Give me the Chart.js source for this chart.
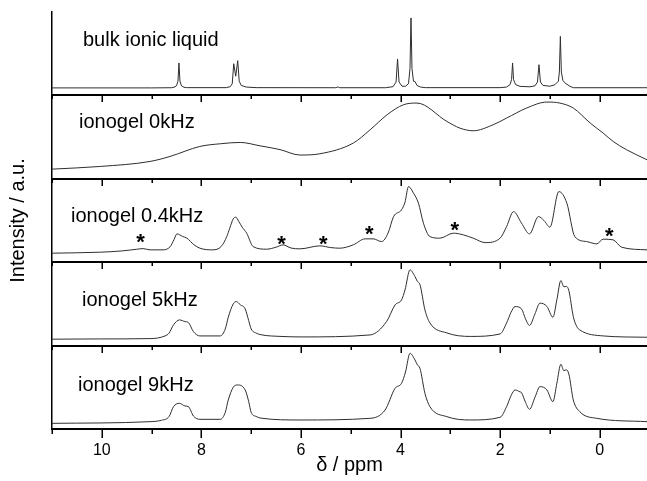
<!DOCTYPE html>
<html lang="en">
<head>
<meta charset="UTF-8">
<title>1H NMR spectra: bulk ionic liquid and ionogel</title>
<script src="https://cdn.jsdelivr.net/npm/chart.js"></script>
<style>
  body { margin: 0; background: #fff; }
  canvas { display: block; }
</style>
</head>
<body>
<canvas id="nmrChart" width="647" height="481"></canvas>
<script>
// chemical shift (ppm) and intensity (a.u., 100 = one panel) for every trace
const bulkShift = [11.0, 9.0, 8.6, 8.55, 8.5, 8.47, 8.45, 8.43, 8.40, 8.35, 8.3, 7.5, 7.42, 7.38, 7.35, 7.31, 7.27, 7.24, 7.2, 7.1, 6.9,
  5.3, 5.26, 5.22, 4.3, 4.15, 4.09, 4.06, 4.03, 3.97, 3.90, 3.84, 3.81, 3.79, 3.77, 3.74, 3.71, 3.67, 3.6, 3.5,
  2.0, 1.87, 1.80, 1.77, 1.75, 1.73, 1.69, 1.6, 1.4, 1.3, 1.25, 1.22, 1.19, 1.14, 1.0, 0.9, 0.83, 0.81, 0.79, 0.77,
  0.74, 0.70, 0.6, 0.53, -0.95];
const bulkInt = [9, 9, 9.2, 9.8, 11.5, 17, 38.9, 17, 11.5, 9.8, 9.3, 9.3, 10.5, 14, 38, 23, 41.6, 17, 12, 10, 9.3,
  9.2, 10.2, 9.2, 9.2, 10.5, 16, 43.7, 16, 11, 11, 14, 32, 92.9, 32, 17, 16.7, 12, 10, 9.3,
  9.3, 10, 13, 19, 38.9, 19, 13, 10.8, 10.3, 11.5, 16, 36.8, 16, 12, 11, 12.8, 17, 28, 70.8, 28,
  18, 15, 11, 9.2, 9.2];

const gel0Shift = [11.0, 10.03, 9.03, 8.63, 8.03, 7.62, 7.22, 6.82, 6.42, 6.02, 5.62, 4.95, 4.61, 4.27, 3.94, 3.67,
  3.07, 2.81, 2.54, 2.14, 1.87, 1.47, 1.06, 0.80, 0.53, 0.19, -0.07, -0.27, -0.54, -0.95];
const gel0Int = [11.6, 14.8, 20.8, 26.8, 38.8, 42, 43.6, 39.5, 35, 28.5, 30, 42.8, 58.8, 76.8, 88.8, 90.8,
  68.8, 60.8, 57.6, 64.8, 72.8, 84.8, 92, 90.8, 84.8, 66.8, 54.8, 44.8, 34.8, 22.8];

const gel04Shift = [11.0, 10.03, 9.6, 9.3, 9.17, 9.03, 8.77, 8.63, 8.55, 8.49, 8.38, 8.29, 8.15, 8.03, 7.77, 7.6, 7.49,
  7.43, 7.36, 7.31, 7.25, 7.18, 7.09, 6.96, 6.69, 6.5, 6.36, 6.2, 6.02, 5.62, 5.4, 5.22, 4.95, 4.71, 4.55, 4.38,
  4.25, 4.14, 3.98, 3.91, 3.84, 3.74, 3.64, 3.54, 3.41, 3.21, 2.94, 2.74, 2.54, 2.30, 2.00, 1.87, 1.73, 1.57,
  1.41, 1.23, 1.12, 1.00, 0.82, 0.66, 0.50, 0.26, 0.06, -0.07, -0.27, -0.44, -0.95];
const gel04Int = [10.8, 12, 13.5, 15.5, 16.3, 14.8, 14.8, 18.4, 27, 34, 31, 28.8, 21, 16.8, 14.8, 19, 30.7,
  40.8, 52, 54, 49, 42, 34.8, 18.7, 15.6, 18, 20.8, 17, 16, 19.6, 17.5, 16.8, 20.8, 28, 28, 24.7,
  35, 54.7, 62.8, 72, 90.7, 82.8, 70.8, 46.8, 30.7, 28.8, 34.8, 32.8, 28.8, 23.5, 28.8, 42.7, 60.7, 46.8,
  34, 54.7, 50, 42, 84.7, 70.8, 30.7, 24.7, 22, 27.6, 26.8, 18, 14.8];

const gel5Shift = [11.0, 10.03, 9.03, 8.73, 8.65, 8.56, 8.44, 8.33, 8.26, 8.16, 8.03, 7.62, 7.52, 7.46, 7.36, 7.30,
  7.22, 7.12, 7.05, 7.0, 6.9, 6.8, 6.4, 6.0, 4.61, 4.28, 4.11, 3.98, 3.91, 3.81, 3.71, 3.66, 3.61, 3.51, 3.41,
  3.07, 2.60, 2.00, 1.87, 1.78, 1.70, 1.57, 1.49, 1.41, 1.30, 1.20, 1.06, 0.94, 0.86, 0.78, 0.72, 0.67, 0.62,
  0.53, 0.46, 0.40, -0.07, -0.95];
const gel5Int = [7.7, 8, 8.4, 11.6, 14.9, 24.8, 30.8, 28.8, 27.6, 16.8, 11.6, 11.6, 20, 34, 50, 52.8,
  49, 44, 30, 20, 15, 13, 11, 10.4, 12.8, 28.8, 48.8, 54.8, 66.8, 90.8, 82.8, 76.8, 73.2, 42.8, 27.2,
  15.2, 11, 14, 27.2, 40, 46.8, 44, 32, 24.2, 38, 50.9, 47, 34, 55, 78, 70.5, 71, 66,
  34.8, 22.8, 18.8, 11.6, 10];

const gel9Shift = [11.0, 9.03, 8.8, 8.65, 8.56, 8.44, 8.33, 8.26, 8.16, 8.03, 7.62, 7.52, 7.46, 7.36, 7.28, 7.12,
  7.05, 7.0, 6.9, 6.8, 6.02, 4.61, 4.31, 4.11, 3.98, 3.90, 3.81, 3.71, 3.66, 3.61, 3.51, 3.41, 3.07, 2.60, 2.00,
  1.87, 1.78, 1.70, 1.60, 1.57, 1.49, 1.41, 1.30, 1.20, 1.06, 0.94, 0.86, 0.78, 0.72, 0.67, 0.62, 0.53, 0.40,
  0.06, -0.95];
const gel9Int = [6.8, 8.8, 10.5, 14.8, 26.8, 30.8, 27.6, 26.8, 15.6, 11.6, 11.6, 20, 34.8, 50, 52.8, 46.8,
  33, 20, 15, 13, 10.8, 12.8, 22.8, 48.8, 54.8, 68.4, 90.8, 82.8, 76.8, 72.8, 42.8, 26.8, 14.8, 10.8, 14,
  26.8, 40, 46.8, 44.5, 43.6, 32, 23.6, 38, 50.8, 46.8, 32.8, 55, 77.6, 70, 71, 66, 34.8, 20.8,
  12.8, 8.8];

const panelNames = ['bulk ionic liquid', 'ionogel 0kHz', 'ionogel 0.4kHz', 'ionogel 5kHz', 'ionogel 9kHz'];
// spinning sideband markers in the 0.4 kHz trace
const bandShift = [9.22, 6.39, 5.55, 4.63, 2.91, -0.19];
const bandLevel = [30.7, 28.8, 28.8, 40.8, 44.8, 37.9];

// layout: panel baselines (top to bottom) and label offsets inside each panel
const panelBase = [400, 300, 200, 100, 0];
const labelOffset = [[31, 34], [27, 33], [19, 43], [30, 44], [26, 45]];
const FONT = 'Arial, "Liberation Sans", Helvetica, sans-serif';

const traces = [
  [bulkShift, bulkInt, 0],
  [gel0Shift, gel0Int, 0.4],
  [gel04Shift, gel04Int, 0.3],
  [gel5Shift, gel5Int, 0.3],
  [gel9Shift, gel9Int, 0.3]
];

const datasets = traces.map(([shift, inten, tension], i) => ({
  label: panelNames[i],
  data: shift.map((s, k) => ({ x: s, y: inten[k] + panelBase[i] })),
  borderColor: '#2e2e2e',
  borderWidth: 1,
  pointRadius: 0,
  tension: tension,
  cubicInterpolationMode: tension ? 'monotone' : 'default',
  fill: false
}));

// separators with ppm ticks, panel names and sideband asterisks
const panelFrame = {
  id: 'panelFrame',
  afterDraw(chart) {
    const { ctx, chartArea, scales: { x, y } } = chart;
    ctx.save();
    ctx.strokeStyle = '#000';
    ctx.lineWidth = 2;
    const seps = panelBase.slice(0, 4).map(v => Math.round(y.getPixelForValue(v)));
    seps.forEach(py => {
      ctx.beginPath();
      ctx.moveTo(chartArea.left, py);
      ctx.lineTo(chartArea.right, py);
      ctx.stroke();
    });

    ctx.lineWidth = 1.5;
    const bottom = Math.round(y.getPixelForValue(0));
    for (let v = Math.ceil(x.min); v <= x.max; v++) {
      const px = Math.round(x.getPixelForValue(v)) + 0.25;
      const major = v % 2 === 0;
      ctx.beginPath();
      seps.forEach(py => {
        ctx.moveTo(px, py);
        ctx.lineTo(px, py + (major ? 7 : 4));
      });
      ctx.moveTo(px, bottom);
      ctx.lineTo(px, bottom + (major ? 9 : 5));
      ctx.stroke();
    }

    ctx.fillStyle = '#000';
    ctx.font = '20px ' + FONT;
    ctx.textAlign = 'left';
    ctx.textBaseline = 'alphabetic';
    panelNames.forEach((name, i) => {
      const top = y.getPixelForValue(panelBase[i] + 100);
      ctx.fillText(name, chartArea.left + labelOffset[i][0], top + labelOffset[i][1]);
    });

    ctx.font = 'bold 22px ' + FONT;
    ctx.textAlign = 'center';
    bandShift.forEach((s, k) => {
      const px = x.getPixelForValue(s);
      const py = y.getPixelForValue(bandLevel[k] + panelBase[2]);
      ctx.fillText('*', px, py + 12.5);
    });
    ctx.restore();
  }
};

new Chart(document.getElementById('nmrChart'), {
  type: 'line',
  data: { datasets: datasets },
  plugins: [panelFrame],
  options: {
    responsive: false,
    animation: false,
    layout: { padding: { top: 12, left: 0, right: 0, bottom: 0 } },
    plugins: { legend: { display: false }, tooltip: { enabled: false } },
    scales: {
      x: {
        type: 'linear',
        reverse: true,
        min: -0.95,
        max: 11,
        afterFit: scale => { scale.height = 52; },
        grid: { display: false, drawTicks: false },
        border: { display: true, color: '#000', width: 2 },
        ticks: {
          stepSize: 1,
          includeBounds: false,
          autoSkip: false,
          maxRotation: 0,
          padding: 12,
          color: '#000',
          font: { family: FONT, size: 16 },
          callback: v => (Number.isInteger(v) && v % 2 === 0 ? String(v) : '')
        },
        title: {
          display: true,
          text: 'δ / ppm',
          color: '#000',
          font: { family: FONT, size: 20 },
          padding: { top: 0, bottom: 4 }
        }
      },
      y: {
        type: 'linear',
        min: 0,
        max: 500,
        afterFit: scale => { scale.width = 52; },
        grid: { display: false, drawTicks: false },
        border: { display: true, color: '#000', width: 1.5 },
        ticks: { display: false },
        title: {
          display: true,
          text: 'Intensity / a.u.',
          color: '#000',
          font: { family: FONT, size: 20 },
          padding: { top: 6, bottom: 0 }
        }
      }
    }
  }
});
</script>
</body>
</html>
